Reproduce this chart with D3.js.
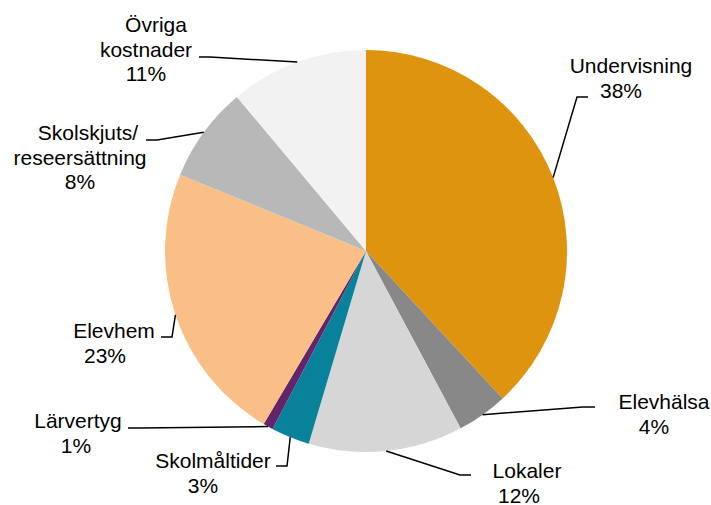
<!DOCTYPE html>
<html>
<head>
<meta charset="utf-8">
<script src="https://cdn.jsdelivr.net/npm/d3@7"></script>
<style>
  body { margin: 0; background: #fff; }
  text { font-family: "Liberation Sans", Arial, sans-serif; font-size: 21px; fill: #000; }
</style>
</head>
<body>
<script>
// kostnadsposter, andel i procent
const categories = ["Undervisning", "Elevhälsa", "Lokaler", "Skolmåltider", "Lärvertyg", "Elevhem", "Skolskjuts/ reseersättning", "Övriga kostnader"];
const values = [38.1, 4.1, 12.4, 3.1, 0.8, 22.7, 7.7, 11.1];
const colors = ["#de940f", "#888888", "#d6d6d6", "#08829a", "#642469", "#f9bf87", "#b8b8b8", "#f2f2f2"];

// how the category names wrap on the chart
const labelLines = [["Undervisning"], ["Elevhälsa"], ["Lokaler"], ["Skolmåltider"], ["Lärvertyg"], ["Elevhem"], ["Skolskjuts/", "reseersättning"], ["Övriga", "kostnader"]];

// label placement: centre x, first baseline, first line shift, elbow + end of leader line
const labelLayout = [
  {x: 621, y: 73, dx: 10, elbow: [577, 97], end: [588, 97]},
  {x: 654, y: 409, dx: 10, elbow: [583, 407], end: [595, 407]},
  {x: 519, y: 478, dx: 8, elbow: [460, 475], end: [471, 475]},
  {x: 203, y: 468, dx: 10, elbow: [287, 466], end: [276, 466]},
  {x: 76, y: 428, dx: 2, elbow: [140, 428], end: [128, 428]},
  {x: 105, y: 338, dx: 9, elbow: [172, 337], end: [161, 337]},
  {x: 80, y: 140, dx: 8, elbow: [157, 140], end: [146, 140]},
  {x: 146, y: 32, dx: 10, elbow: [210, 57], end: [199, 57]}
];

const width = 711, height = 505;
const cx = 366, cy = 251, radius = 201;
const lineHeight = 24.5;

const data = categories.map((c, i) => ({name: c, value: values[i], color: colors[i], lines: labelLines[i], layout: labelLayout[i]}));

const svg = d3.select("body").append("svg")
    .attr("width", width)
    .attr("height", height);

const pie = d3.pie().sort(null).value(d => d.value);
const arcs = pie(data);
const arc = d3.arc().innerRadius(0).outerRadius(radius);
const edge = d3.arc().innerRadius(radius).outerRadius(radius);

const g = svg.append("g").attr("transform", "translate(" + cx + "," + cy + ")");

g.selectAll("path.slice")
    .data(arcs)
    .enter().append("path")
    .attr("class", "slice")
    .attr("d", arc)
    .attr("fill", d => d.data.color);

// leader lines
const line = d3.line();
svg.selectAll("path.leader")
    .data(arcs)
    .enter().append("path")
    .attr("class", "leader")
    .attr("fill", "none")
    .attr("stroke", "#000")
    .attr("stroke-width", 1.5)
    .attr("d", d => {
        const c = edge.centroid(d);
        return line([[cx + c[0], cy + c[1]], d.data.layout.elbow, d.data.layout.end]);
    });

// labels
const pct = v => Math.round(v) + "%";
const labels = svg.selectAll("text.label")
    .data(data)
    .enter().append("text")
    .attr("class", "label")
    .attr("text-anchor", "middle");

labels.each(function (d) {
    const t = d3.select(this);
    const lines = d.lines.concat([pct(d.value)]);
    lines.forEach((s, i) => {
        t.append("tspan")
            .attr("x", d.layout.x + (i === 0 ? d.layout.dx : 0))
            .attr("y", d.layout.y + i * lineHeight)
            .text(s);
    });
});
</script>
</body>
</html>
